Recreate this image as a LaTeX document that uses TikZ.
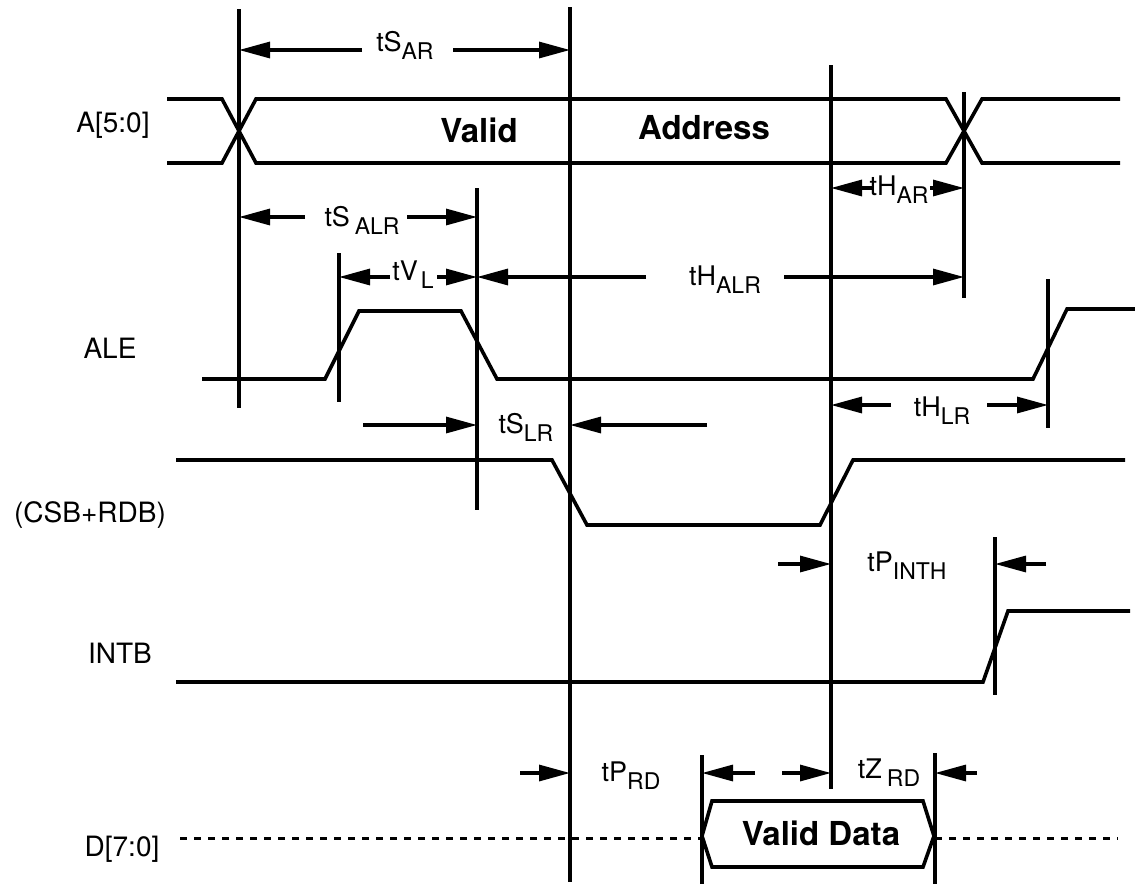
\documentclass[tikz,border=0pt]{standalone}
\usepackage{fontspec}
\setmainfont{TeX Gyre Heros}
\usetikzlibrary{arrows.meta}
\newcommand{\tlab}[3][0pt]{\fontsize{27}{30}\selectfont #2\hspace{#1}\raisebox{-8pt}{\fontsize{23}{26}\selectfont #3}}
\newcommand{\siglab}{\fontsize{28}{32}\selectfont}
\newcommand{\boldlab}{\fontsize{33}{38}\selectfont\bfseries}
\begin{document}
\begin{tikzpicture}[x=1pt,y=-1pt,
  sig/.style={line width=3.6pt, line join=miter},
  vl/.style={line width=3.2pt},
  arr/.style={line width=3.2pt, -{Triangle[length=31pt,width=16pt]}},
  dsh/.style={line width=3pt, dash pattern=on 7pt off 7pt},
  lab/.style={inner sep=0pt, anchor=center}]
\useasboundingbox (0,0) rectangle (1135,884);
% ---------- signal names
\node[lab] (nA)   at (113,125) {\siglab A[5:0]};
\node[lab] (nALE) at (110,348) {\siglab ALE};
\node[lab] (nCSB) at (90,515)  {\siglab (CSB+RDB)};
\node[lab] (nINT) at (120,653) {\siglab INTB};
\node[lab] (nD)   at (122,849) {\siglab D[7:0]};
% ---------- vertical reference lines
\coordinate (v1t) at (239,9);    \coordinate (v1b) at (239,408);
\coordinate (v2t) at (570,7);    \coordinate (v2b) at (570,882);
\coordinate (v3t) at (831,65);   \coordinate (v3b) at (831,789);
\coordinate (v4t) at (477,188);  \coordinate (v4b) at (477,510);
\coordinate (v5t) at (339,253);  \coordinate (v5b) at (339,402);
\coordinate (v6t) at (964,92);   \coordinate (v6b) at (964,298);
\coordinate (v7t) at (1048,279); \coordinate (v7b) at (1048,428);
\coordinate (v8t) at (995,537);  \coordinate (v8b) at (995,695);
\coordinate (v9t) at (702,755);  \coordinate (v9b) at (702,884);
\coordinate (v10t) at (935,753); \coordinate (v10b) at (935,884);
\foreach \v in {1,...,10}{\draw[vl] (v\v t) -- (v\v b);}
% ---------- A[5:0]
\draw[sig] (167,99) -- (222,99) -- (256,163) -- (946,163) -- (982,99) -- (1120,99);
\draw[sig] (167,163) -- (222,163) -- (256,99) -- (946,99) -- (982,163) -- (1120,163);
\node[lab] (tValid) at (479,130) {\boldlab Valid};
\node[lab] (tAddr)  at (704,128) {\boldlab Address};
% ---------- ALE
\draw[sig] (202,379) -- (325,379) -- (359,311) -- (461,311) -- (497,379) -- (1033,379) -- (1067,309) -- (1135,309);
% ---------- CSB+RDB
\draw[sig] (176,460) -- (552,460) -- (587,525) -- (820,525) -- (853,460) -- (1125,460);
% ---------- INTB
\draw[sig] (176,682) -- (983,682) -- (1008,611) -- (1130,611);
% ---------- D[7:0]
\draw[dsh] (180,838) -- (702,838);
\draw[dsh] (935,838) -- (1118,838);
\draw[sig] (702,836) -- (712,801) -- (923,801) -- (934,836) -- (923,867) -- (712,867) -- cycle;
\node[lab] (tData) at (821,833) {\boldlab Valid Data};
% ---------- timing labels
\node[lab] (lSAR)  at (405,45)  {\tlab{tS}{AR}};
\node[lab] (lSALR) at (362,220) {\tlab[5pt]{tS}{ALR}};
\node[lab] (lVL)   at (413,275) {\tlab[3pt]{tV}{L}};
\node[lab] (lHALR) at (725,280) {\tlab{tH}{ALR}};
\node[lab] (lHAR)  at (899,190) {\tlab{tH}{AR}};
\node[lab] (lHLR)  at (942,411) {\tlab{tH}{LR}};
\node[lab] (lSLR)  at (526,427) {\tlab{tS}{LR}};
\node[lab] (lPINT) at (907,566) {\tlab{tP}{INTH}};
\node[lab] (lPRD)  at (631,776) {\tlab{tP}{RD}};
\node[lab] (lZRD)  at (889,773) {\tlab[5pt]{tZ}{RD}};
% ---------- arrow tails
\coordinate (a1) at (362,50);  \coordinate (a2) at (453,50);
\coordinate (a3) at (305,217); \coordinate (a4) at (407,217);
\coordinate (a5) at (390,277); \coordinate (a6) at (437,277);
\coordinate (a7) at (646,277); \coordinate (a8) at (784,277);
\coordinate (a9) at (872,188); \coordinate (a10) at (930,188);
\coordinate (a11) at (891,405); \coordinate (a12) at (987,405);
\coordinate (a13) at (363,425); \coordinate (a14) at (707,425);
\coordinate (a15) at (778,564); \coordinate (a16) at (1046,564);
\coordinate (a17) at (520,773); \coordinate (a18) at (755,773);
\coordinate (a19) at (782,773); \coordinate (a20) at (977,773);
% ---------- arrows
\draw[arr] (a1) -- (a1 -| v1t);
\draw[arr] (a2) -- (a2 -| v2t);
\draw[arr] (a3) -- (a3 -| v1t);
\draw[arr] (a4) -- (a4 -| v4t);
\draw[arr] (a5) -- (a5 -| v5t);
\draw[arr] (a6) -- (a6 -| v4t);
\draw[arr] (a7) -- (a7 -| v4t);
\draw[arr] (a8) -- (a8 -| v6t);
\draw[arr] (a9) -- (a9 -| v3t);
\draw[arr] (a10) -- (a10 -| v6t);
\draw[arr] (a11) -- (a11 -| v3t);
\draw[arr] (a12) -- (a12 -| v7t);
\draw[arr] (a13) -- (a13 -| v4t);
\draw[arr] (a14) -- (a14 -| v2t);
\draw[arr] (a15) -- (a15 -| v3t);
\draw[arr] (a16) -- (a16 -| v8t);
\draw[arr] (a17) -- (a17 -| v2t);
\draw[arr] (a18) -- (a18 -| v9t);
\draw[arr] (a19) -- (a19 -| v3t);
\draw[arr] (a20) -- (a20 -| v10t);
\end{tikzpicture}
\end{document}
